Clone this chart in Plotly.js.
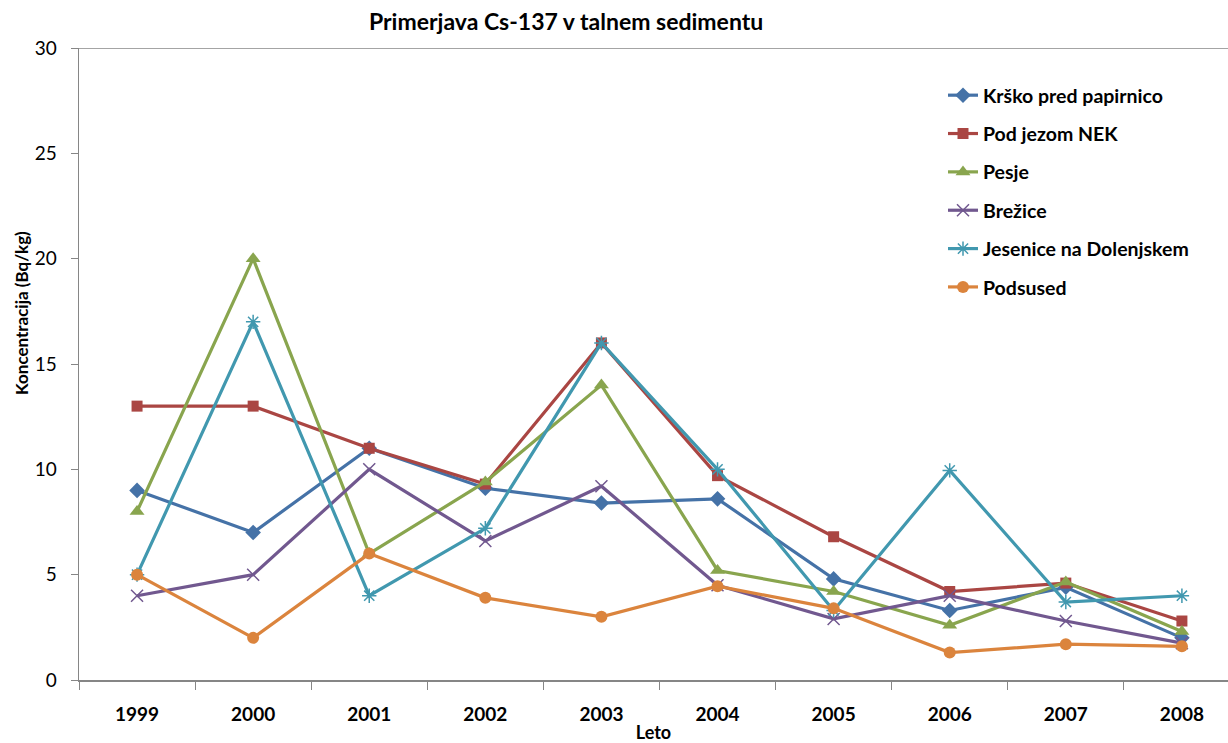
<!DOCTYPE html>
<html>
<head>
<meta charset="utf-8">
<script src="https://cdn.plot.ly/plotly-3.0.1.min.js"></script>
<style>
html,body{margin:0;padding:0;background:#fff;overflow:hidden;}
#chart{width:1228px;height:743px;}
</style>
</head>
<body>
<div id="chart"></div>
<script>
const years = ["1999","2000","2001","2002","2003","2004","2005","2006","2007","2008"];
const krsko = [9, 7, 11, 9.1, 8.4, 8.6, 4.8, 3.3, 4.4, 2.0];
const podJezom = [13, 13, 11, 9.3, 16, 9.7, 6.8, 4.2, 4.6, 2.8];
const pesje = [8, 20, 6, 9.4, 14, 5.2, 4.2, 2.6, 4.65, 2.3];
const brezice = [4, 5, 10, 6.6, 9.2, 4.5, 2.9, 4.0, 2.8, 1.75];
const jesenice = [5, 17, 4, 7.2, 16, 10, 3.3, 9.95, 3.7, 4.0];
const podsused = [5, 2, 6, 3.9, 3, 4.45, 3.4, 1.3, 1.7, 1.6];

const names = ["Krško pred papirnico","Pod jezom NEK","Pesje","Brežice","Jesenice na Dolenjskem","Podsused"];
const colors = ["#4572A7","#AA4643","#89A54E","#71588F","#4198AF","#DB843D"];

const font = "Lato, 'Open Sans', sans-serif";

function tr(i, y, marker){
  return {
    type: "scatter", mode: "lines+markers", x: years, y: y, name: names[i],
    legendgroup: "g"+i,
    line: {color: colors[i], width: 3.2},
    marker: Object.assign({color: colors[i]}, marker)
  };
}

const data = [
  tr(0, krsko, {symbol: "diamond", size: 12}),
  tr(1, podJezom, {symbol: "square", size: 11}),
  tr(2, pesje, {symbol: "triangle-up", size: 13}),
  tr(3, brezice, {symbol: "x-thin-open", size: 12, line: {color: colors[3], width: 1.5}}),
  tr(4, jesenice, {symbol: "asterisk-open", size: 12, line: {color: colors[4], width: 1.5}}),
  tr(5, podsused, {symbol: "circle", size: 12})
];

const layout = {
  width: 1228, height: 743,
  margin: {l: 79, r: 0, t: 48, b: 63},
  paper_bgcolor: "#fff", plot_bgcolor: "#fff",
  font: {family: font, color: "#000"},
  showlegend: true,
  title: {
    text: "<b>Primerjava Cs-137 v talnem sedimentu</b>",
    font: {family: font, size: 23, color: "#000"},
    xref: "container", x: 0.461, xanchor: "center",
    yref: "container", y: 0.970, yanchor: "middle"
  },
  xaxis: {
    type: "category",
    range: [-0.5, 9.397],
    tickson: "boundaries",
    ticks: "outside", ticklen: 8, tickcolor: "#868686", tickwidth: 1,
    showline: true, linecolor: "#868686", linewidth: 1.5,
    showgrid: false, zeroline: false,
    tickfont: {family: font, size: 19, color: "#000", weight: "bold"},
    ticklabelstandoff: 17,
    title: {text: "<b>Leto</b>", font: {family: font, size: 18, color: "#000"}, standoff: 4}
  },
  yaxis: {
    range: [0, 30],
    tickvals: [0,5,10,15,20,25,30],
    ticks: "outside", ticklen: 7, tickcolor: "#868686", tickwidth: 1,
    showline: true, linecolor: "#868686", linewidth: 1.5,
    showgrid: false, zeroline: false,
    tickfont: {family: font, size: 19, color: "#000"},
    ticklabelstandoff: 10
  },
  annotations: [
    {text: "<b>Koncentracija (Bq/kg)</b>", textangle: -90, showarrow: false,
     xref: "paper", yref: "paper", x: (21-79)/1149, y: (680-313)/632,
     xanchor: "center", yanchor: "middle",
     font: {family: font, size: 17, color: "#000"}}
  ],
  shapes: [
    {type: "line", xref: "paper", yref: "y", x0: 0, x1: 1, y0: 30, y1: 30,
     line: {color: "#868686", width: 1.5}}
  ],
  legend: {
    x: (943-79)/1149, xref: "paper", xanchor: "left",
    y: (680-76)/632, yref: "paper", yanchor: "top",
    bgcolor: "rgba(0,0,0,0)",
    font: {family: font, size: 19.5, color: "#000", weight: "bold"},
    tracegroupgap: 10,
    itemwidth: 30
  }
};

Plotly.newPlot("chart", data, layout, {displayModeBar: false, staticPlot: true});
</script>
</body>
</html>
